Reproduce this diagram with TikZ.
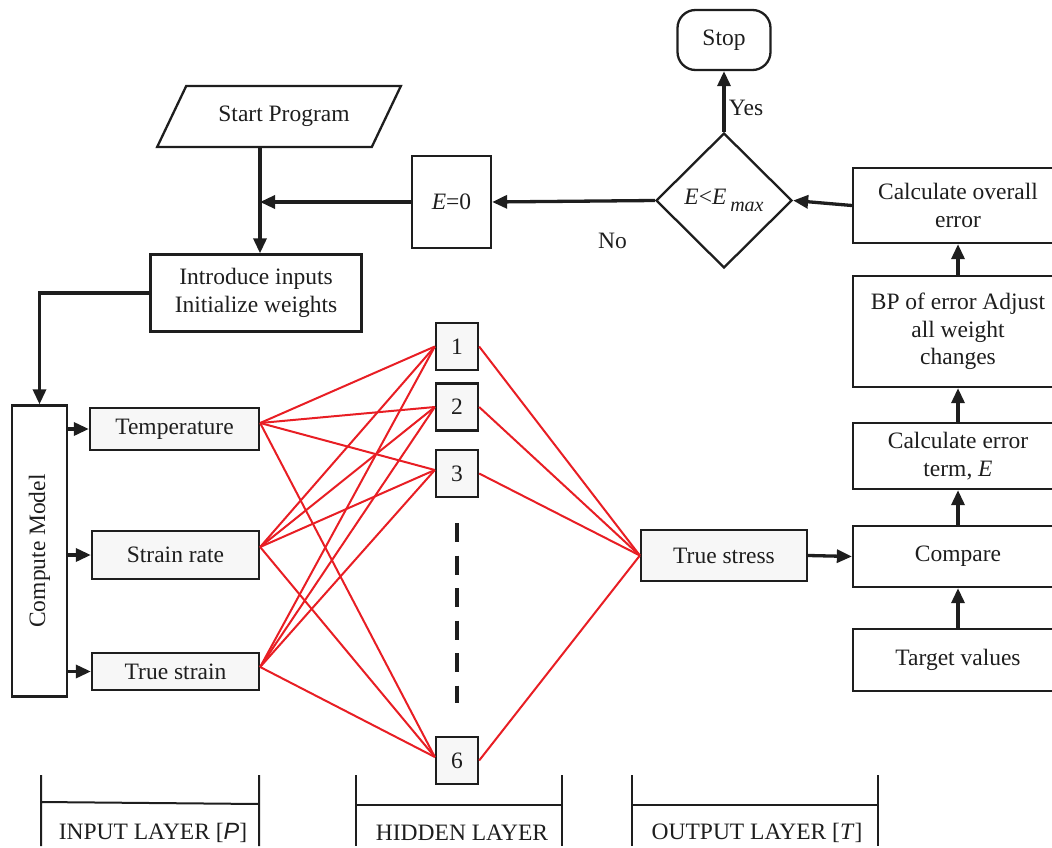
\documentclass[tikz,border=0pt]{standalone}
\usepackage{fontspec}
\setmainfont{Liberation Serif}
\newfontfamily\lsans{Liberation Sans}
\usetikzlibrary{shapes.geometric,arrows.meta,calc}
\definecolor{wred}{RGB}{232,30,36}
\definecolor{ink}{RGB}{30,30,30}
\begin{document}
\begin{tikzpicture}[x=1pt,y=-1pt,
  font=\fontsize{23.5}{27.5}\selectfont, text=ink,
  box/.style={draw=ink, line width=2.3pt, inner sep=0pt, align=center},
  gbox/.style={box, fill=black!3},
  arr/.style={draw=ink, line width=3.3pt, -{Triangle[length=15pt,width=13pt]}},
  wt/.style={draw=wred, line width=2pt},
  brk/.style={draw=ink, line width=2pt}]
\useasboundingbox (0,0) rectangle (1052,848);

% top flow
\node[box, rounded corners=18pt, minimum width=93pt, minimum height=60pt] (stop) at (724,40) {\raisebox{-3pt}{Stop}};
\node[box, diamond, minimum width=136pt, minimum height=135pt] (dec) at (724,200.5)
  {\textit{E}<\textit{E}\,\raisebox{-7pt}{\fontsize{20}{20}\selectfont\textit{max}}};
\node[box, minimum width=79pt, minimum height=92pt] (e0) at (451.5,202) {\textit{E}=0};
\node[box, trapezium, trapezium left angle=43, trapezium right angle=137, trapezium stretches=true,
  minimum width=244pt, minimum height=61pt] (start) at (279,116.5) {\hspace{10pt}Start Program};
\node[box, minimum width=211pt, minimum height=77pt] (intro) at (256,293) {Introduce inputs\\Initialize weights};
\coordinate (j) at (260,202);

% compute model
\node[box, minimum width=55pt, minimum height=291pt] (cm) at (39.5,551) {};
\node[rotate=90] (cmlabel) at (39.5,551) {Compute Model};

% input layer
\node[gbox, minimum width=169pt, minimum height=42pt] (temp) at (174.5,429) {\raisebox{-3pt}{Temperature}};
\node[gbox, minimum width=167pt, minimum height=48pt] (srate) at (175.5,555) {Strain rate};
\node[gbox, minimum width=167pt, minimum height=37pt] (tstrain) at (175.5,671.5) {True strain};

% hidden layer
\node[gbox, minimum width=42pt, minimum height=47pt] (h1) at (457,346.5) {1};
\node[gbox, minimum width=42pt, minimum height=47pt] (h2) at (457,407) {2};
\node[gbox, minimum width=42pt, minimum height=47pt] (h3) at (457,473.5) {3};
\node[gbox, minimum width=42pt, minimum height=47pt] (h6) at (457,760.5) {6};
\draw[draw=ink, line width=4.5pt, dash pattern=on 19pt off 13.5pt] (457,523) -- (457,703);

% output
\node[gbox, minimum width=166pt, minimum height=51pt] (tstress) at (724,555.5) {True stress};

% right column
\node[box, minimum width=210pt, minimum height=75pt] (calcall) at (958,205.5) {Calculate overall\\error};
\node[box, minimum width=210pt, minimum height=111pt] (bp) at (958,331.5) {BP of error Adjust\\all weight\\changes};
\node[box, minimum width=210pt, minimum height=66pt] (cerr) at (958,456) {Calculate error\\term, \textit{E}};
\node[box, minimum width=210pt, minimum height=61pt] (comp) at (958,556.5) {Compare};
\node[box, minimum width=210pt, minimum height=62pt] (target) at (958,660) {Target values};

% connection points
\coordinate (tempo) at ($(temp.east)+(0,-6)$);
\coordinate (srateo) at ($(srate.east)+(0,-8)$);
\coordinate (tstraino) at ($(tstrain.east)+(0,-4.5)$);
\coordinate (h1i) at (h1.west);
\coordinate (h2i) at (h2.west);
\coordinate (h3i) at ($(h3.west)+(0,-3.5)$);
\coordinate (h6i) at ($(h6.west)+(0,-3.5)$);
\coordinate (h1o) at (h1.east);
\coordinate (h2o) at (h2.east);
\coordinate (h3o) at (h3.east);
\coordinate (h6o) at (h6.east);

% weights
\foreach \i in {tempo,srateo,tstraino}
  \foreach \h in {h1i,h2i,h3i,h6i}
    \draw[wt] (\i) -- (\h);
\foreach \h in {h1o,h2o,h3o,h6o}
  \draw[wt] (\h) -- (tstress.west);

% arrows
\draw[arr] (calcall.west) -- (dec.east);
\draw[arr] (dec.west) -- node[pos=0.26, yshift=-40pt] {No} (e0.east);
\draw[arr] (dec.north) -- node[right, pos=0.4] {Yes} (stop.south);
\draw[arr] (start.south -| j) -- (intro.north -| j);
\draw[arr] (e0.west) -- (j);
\draw[arr] (intro.west) -| (cm.north);
\draw[arr] (cm.east |- temp.west) -- (temp.west);
\draw[arr] (cm.east |- srate.west) -- (srate.west);
\draw[arr] (cm.east |- tstrain.west) -- (tstrain.west);
\draw[arr] (tstress.east) -- (comp.west);
\draw[arr] (target.north) -- (comp.south);
\draw[arr] (comp.north) -- (cerr.south);
\draw[arr] (cerr.north) -- (bp.south);
\draw[arr] (bp.north) -- (calcall.south);

% layer brackets
\draw[brk] (41,775) -- (41,846) (259,775) -- (259,846) (41,802) -- (259,804);
\draw[brk] (356,775) -- (356,846) (562,775) -- (562,846) (356,805) -- (562,805);
\draw[brk] (632,775) -- (632,846) (878,775) -- (878,846) (632,805) -- (878,805);
\node (lin) at (153,833) {INPUT LAYER [{\lsans\itshape P}]};
\node (lhid) at (462,833) {HIDDEN LAYER};
\node (lout) at (757,833) {OUTPUT LAYER [\textit{T}]};
\end{tikzpicture}
\end{document}
